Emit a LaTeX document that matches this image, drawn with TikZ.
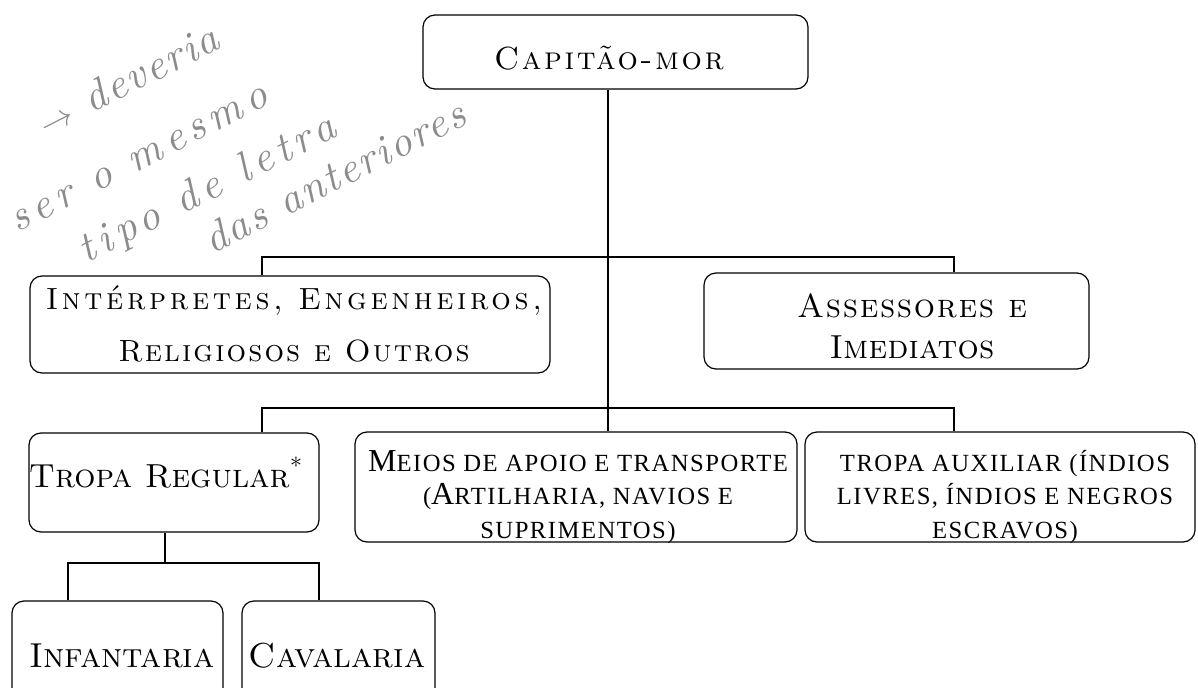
\documentclass[tikz,border=0pt]{standalone}
\usepackage{fontspec}
\newfontfamily\lmcaps{lmromancaps10-regular.otf}
\newfontfamily\scanserif{Liberation Serif}
\newfontfamily\handfont{lmroman10-italic.otf}
\usetikzlibrary{fit}

\tikzset{
  orgbox/.style={draw, rounded corners=9pt, line width=0.9pt, inner sep=0pt},
  orgtext/.style={align=center, inner sep=0pt},
  orgline/.style={line width=0.9pt},
  handnote/.style={text=black!45, inner sep=0pt, rotate=27}
}
\newcommand{\capini}[1]{{\fontsize{24}{24}\selectfont #1}}
\newcommand{\ls}[2]{{\addfontfeature{LetterSpace=#1}#2}}

\begin{document}
\begin{tikzpicture}[x=0.75pt,y=0.75pt,yscale=-1,xscale=1]
\useasboundingbox (0,0) rectangle (1198,688);
\clip (0,0) rectangle (1198,688);

%Shape: Rounded Rectangle
\node[orgbox, fit={(423,15) (808,89)}] (cap) {};
%Shape: Rounded Rectangle
\node[orgbox, fit={(30,276) (550,373)}] (interp) {};
%Shape: Rounded Rectangle
\node[orgbox, fit={(704,273) (1089,369)}] (assess) {};
%Shape: Rounded Rectangle
\node[orgbox, fit={(29,433) (319,532)}] (tropa) {};
%Shape: Rounded Rectangle
\node[orgbox, fit={(355,432) (797,542)}] (meios) {};
%Shape: Rounded Rectangle
\node[orgbox, fit={(805,432) (1195,542)}] (aux) {};
%Shape: Rounded Rectangle
\node[orgbox, fit={(12,601) (223,720)}] (infant) {};
%Shape: Rounded Rectangle
\node[orgbox, fit={(242,601) (435,720)}] (cav) {};

% bus points
\coordinate (b1l) at (262,257);
\coordinate (b1r) at (954,257);
\coordinate (b2m) at (608,408);
\coordinate (b2l) at (262,408);
\coordinate (b2r) at (954,408);
\coordinate (b3m) at (165,563);
\coordinate (b3l) at (68,563);
\coordinate (b3r) at (319,563);

%Straight Lines
\draw[orgline] (cap.south -| b2m) -- (b2m) -- (meios.north -| b2m);
%Straight Lines
\draw[orgline] (interp.north -| b1l) -- (b1l) -- (b1r) -- (assess.north -| b1r);
%Straight Lines
\draw[orgline] (tropa.north -| b2l) -- (b2l) -- (b2r) -- (aux.north -| b2r);
%Straight Lines
\draw[orgline] (tropa.south -| b3m) -- (b3m);
\draw[orgline] (infant.north -| b3l) -- (b3l) -- (b3r) -- (cav.north -| b3r);

% Text Node
\node[orgtext, anchor=base, font=\lmcaps\fontsize{24}{28}\selectfont] (cap-t) at (609,70) {\ls{8}{Capitão-mor}};
% Text Node
\node[orgtext, font=\lmcaps\fontsize{23}{39}\selectfont] (interp-t) at (294,324) {\ls{12}{Intérpretes, Engenheiros,}\\ \ls{7}{Religiosos e Outros}};
% Text Node
\node[orgtext, font=\lmcaps\fontsize{25}{31}\selectfont] (assess-t) at (912,326) {\ls{5}{Assessores e}\\ \ls{1}{Imediatos}};
% Text Node
\node[orgtext, anchor=base, font=\lmcaps\fontsize{25}{30}\selectfont] (tropa-t) at (166,487) {Tropa Regular\textsuperscript{*}};
% Text Node
\node[orgtext, font=\scanserif\fontsize{18.5}{25}\selectfont] (meios-t) at (578,497) {\ls{6}{\capini{M}EIOS DE APOIO E TRANSPORTE}\\ \ls{6}{(\capini{A}RTILHARIA, NAVIOS E}\\ \ls{6}{SUPRIMENTOS)}};
% Text Node
\node[orgtext, font=\scanserif\fontsize{18.5}{25}\selectfont] (aux-t) at (1005,497) {\ls{6}{TROPA AUXILIAR (ÍNDIOS}\\ \ls{6}{LIVRES, ÍNDIOS E NEGROS}\\ \ls{6}{ESCRAVOS)}};
% Text Node
\node[orgtext, anchor=base, font=\lmcaps\fontsize{26}{30}\selectfont] (infant-t) at (122,667) {Infantaria};
% Text Node
\node[orgtext, anchor=base, font=\lmcaps\fontsize{26}{30}\selectfont] (cav-t) at (337,667) {Cavalaria};

% Handwritten note
\node[handnote, font=\handfont\fontsize{32}{32}\selectfont] (note1) at (128,79) {\ls{5}{$\rightarrow$ deveria}};
\node[handnote, font=\handfont\fontsize{32}{32}\selectfont] (note2) at (140,160) {\ls{14}{ser o mesmo}};
\node[handnote, font=\handfont\fontsize{32}{32}\selectfont] (note3) at (208,190) {\ls{14}{tipo de letra}};
\node[handnote, font=\handfont\fontsize{32}{32}\selectfont] (note4) at (334,176) {\ls{5}{das anteriores}};

\end{tikzpicture}
\end{document}
